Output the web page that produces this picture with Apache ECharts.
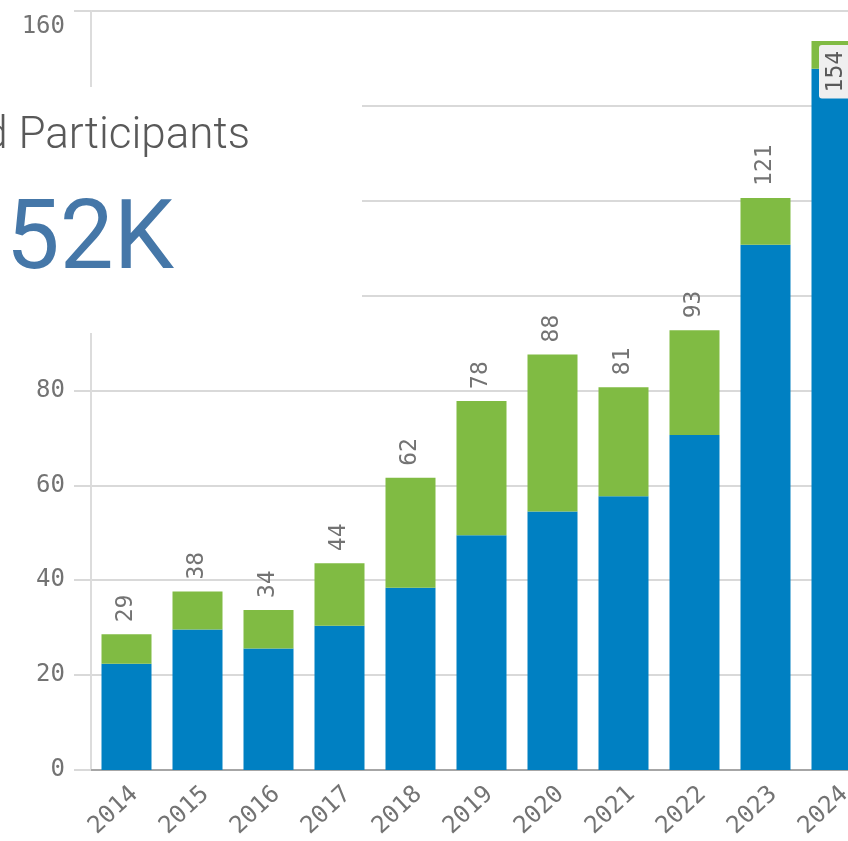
<!DOCTYPE html>
<html>
<head>
<meta charset="utf-8">
<script src="https://cdn.jsdelivr.net/npm/echarts@6/dist/echarts.min.js"></script>
<style>
html,body{margin:0;padding:0;background:#fff;overflow:hidden;width:848px;height:841px;}
#chart{width:880px;height:841px;}
</style>
</head>
<body>
<div id="chart"></div>
<script>
var years = ['2014','2015','2016','2017','2018','2019','2020','2021','2022','2023','2024'];
var blueValues = [22.4, 29.6, 25.6, 30.4, 38.4, 49.5, 54.5, 57.7, 70.6, 110.7, 147.8];
var greenValues = [6.2, 8.0, 8.1, 13.2, 23.2, 28.3, 33.1, 23.0, 22.1, 9.9, 5.9];
var yTicks = [0, 20, 40, 60, 80, 100, 120, 140, 160];
var kpiTitle = 'Registered Participants';
var kpiValue = '52K';

var mono = '"DejaVu Sans Mono", "Liberation Mono", monospace';
var labelColor = '#737373';

var chart = echarts.init(document.getElementById('chart'), null, {renderer: 'canvas', width: 880, height: 841});

var greenData = greenValues.map(function (g, i) {
  var item = { value: g };
  if (i === years.length - 1) {
    item.label = {
      position: 'insideTop',
      distance: 4,
      rotate: 90,
      align: 'right',
      verticalAlign: 'middle',
      backgroundColor: '#efefef',
      borderRadius: 3,
      padding: [6, 6, 6, 6],
      color: '#595959'
    };
  }
  return item;
});

chart.setOption({
  animation: false,
  backgroundColor: '#ffffff',
  grid: { left: 91, top: 11, width: 781, height: 763, containLabel: false },
  xAxis: {
    type: 'category',
    data: years,
    axisLine: { show: true, lineStyle: { color: '#a6a6a6', width: 2 } },
    axisTick: { show: false },
    axisLabel: {
      rotate: 43,
      margin: 12,
      interval: 0,
      verticalAlign: 'top',
      fontFamily: mono,
      fontSize: 24,
      color: labelColor
    }
  },
  yAxis: {
    type: 'value',
    min: yTicks[0],
    max: yTicks[yTicks.length - 1],
    interval: yTicks[1] - yTicks[0],
    axisLine: { show: true, lineStyle: { color: '#dcdcdc', width: 2 } },
    axisTick: { show: true, length: 17, lineStyle: { color: '#d9d9d9', width: 2 } },
    axisLabel: {
      margin: 26,
      fontFamily: mono,
      fontSize: 24,
      color: labelColor,
      formatter: function (v) {
        if (v === yTicks[yTicks.length - 1]) return '{top|' + v + '}';
        return String(v);
      },
      rich: {
        top: { fontFamily: mono, fontSize: 24, color: labelColor, padding: [32, 0, 0, 0] }
      }
    },
    splitLine: { show: true, lineStyle: { color: '#d9d9d9', width: 2 } }
  },
  series: [
    {
      name: 'blue',
      type: 'bar',
      stack: 'total',
      barWidth: 50,
      data: blueValues,
      itemStyle: { color: '#0080c2' }
    },
    {
      name: 'green',
      type: 'bar',
      stack: 'total',
      barWidth: 50,
      data: greenData,
      itemStyle: { color: '#80bb43' },
      label: {
        show: true,
        position: 'top',
        distance: 12,
        rotate: 90,
        align: 'left',
        verticalAlign: 'middle',
        fontFamily: mono,
        fontSize: 23,
        color: labelColor,
        formatter: function (p) {
          return String(Math.round(blueValues[p.dataIndex] + greenValues[p.dataIndex]));
        }
      }
    }
  ],
  graphic: [
    {
      type: 'rect',
      z: 100,
      shape: { x: 0, y: 87, width: 362, height: 246 },
      style: { fill: '#ffffff' }
    },
    {
      type: 'text',
      z: 101,
      x: 250,
      y: 159,
      style: {
        text: kpiTitle,
        textAlign: 'right',
        textVerticalAlign: 'bottom',
        font: '300 44px Roboto',
        fill: '#595959'
      }
    },
    {
      type: 'text',
      z: 101,
      x: 174,
      y: 292,
      style: {
        text: kpiValue,
        textAlign: 'right',
        textVerticalAlign: 'bottom',
        font: '400 96px Roboto',
        fill: '#4577a8'
      }
    }
  ]
});
</script>
</body>
</html>
